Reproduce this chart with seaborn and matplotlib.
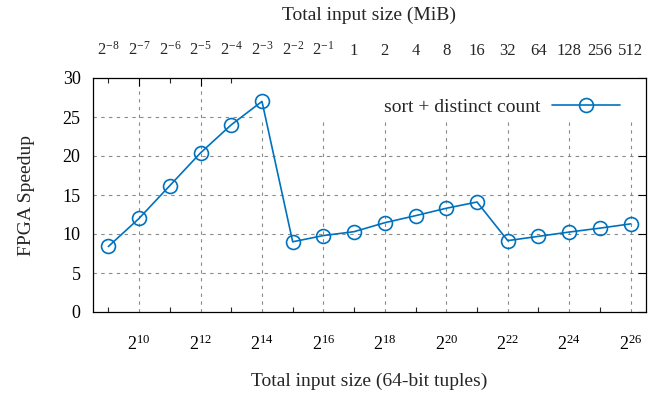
import matplotlib
matplotlib.use("Agg")
import matplotlib.pyplot as plt
import seaborn as sns
import pandas as pd
from matplotlib.patches import Rectangle
from matplotlib.ticker import FixedLocator, NullLocator, NullFormatter

# ---- data ----
exponents = list(range(9, 27))  # input size = 2**e tuples
speedup = [8.4, 12.0, 16.2, 20.4, 24.0, 27.0, 9.0, 9.8, 10.3, 11.45,
           12.35, 13.3, 14.1, 9.15, 9.7, 10.25, 10.75, 11.3]
series_label = "sort + distinct count"
mib_labels = [r"$\mathregular{2^{-8}}$", r"$\mathregular{2^{-7}}$", r"$\mathregular{2^{-6}}$",
              r"$\mathregular{2^{-5}}$", r"$\mathregular{2^{-4}}$", r"$\mathregular{2^{-3}}$",
              r"$\mathregular{2^{-2}}$", r"$\mathregular{2^{-1}}$",
              "1", "2", "4", "8", "16", "32", "64", "128", "256", "512"]
major_exps = list(range(10, 27, 2))
minor_exps = list(range(9, 27, 2))
y_ticks = [0, 5, 10, 15, 20, 25, 30]

sns.set_style("white")
plt.rcParams["font.family"] = ["Liberation Serif", "DejaVu Serif"]
plt.rcParams["mathtext.fontset"] = "custom"
plt.rcParams["mathtext.rm"] = "Liberation Serif"
plt.rcParams["mathtext.it"] = "Liberation Serif:italic"
plt.rcParams["mathtext.bf"] = "Liberation Serif:bold"

color = "#0072bd"
fs = 14

df = pd.DataFrame({"tuples": [2.0 ** e for e in exponents], "speedup": speedup})

fig = plt.figure(figsize=(6.6, 3.98), dpi=100)
ax = fig.add_axes([93 / 660, 1 - 312 / 398, (646 - 93) / 660, (312 - 78) / 398])
ax.set_xscale("log", base=2)
ax.set_xlim(2 ** 8.5, 2 ** 26.5)
ax.set_ylim(0, 30)

# grid (manual so an opaque key box can sit between grid and data)
grid_kw = dict(color="#8a8a8a", lw=0.8, ls=(0, (3, 4)), zorder=0.5)
for yv in y_ticks[1:-1]:
    ax.axhline(yv, **grid_kw)
for e in major_exps:
    ax.axvline(2.0 ** e, **grid_kw)

# opaque key area
ax.add_patch(Rectangle((0.295, 0.82), 0.705, 0.18, transform=ax.transAxes,
                       facecolor="white", edgecolor="none", zorder=1))

sns.lineplot(data=df, x="tuples", y="speedup", ax=ax, color=color, lw=1.2,
             marker="o", markersize=10, markerfacecolor="none",
             markeredgecolor=color, markeredgewidth=1.2, label=series_label,
             zorder=2)

ax.xaxis.set_major_locator(FixedLocator([2.0 ** e for e in major_exps]))
ax.set_xticklabels([rf"$\mathregular{{2^{{{e}}}}}$" for e in major_exps])
ax.xaxis.set_minor_locator(FixedLocator([2.0 ** e for e in minor_exps]))
ax.xaxis.set_minor_formatter(NullFormatter())
ax.set_yticks(y_ticks)
ax.yaxis.set_minor_locator(NullLocator())

ax.tick_params(axis="both", which="major", direction="in", length=6, width=0.8,
               top=True, right=True, colors="black")
ax.tick_params(axis="x", which="major", pad=16, labelsize=13)
ax.tick_params(axis="y", which="major", pad=9, labelsize=13)
ax.tick_params(axis="x", which="minor", direction="in", length=3.5, width=0.8,
               top=True, bottom=True)
for s in ax.spines.values():
    s.set_color("black")
    s.set_linewidth(0.9)
    s.set_zorder(3)

ax.set_xlabel("Total input size (64-bit tuples)", fontsize=fs, labelpad=14)
ax.set_ylabel("FPGA Speedup", fontsize=fs, labelpad=20)

sec = ax.secondary_xaxis("top")
sec.xaxis.set_major_locator(FixedLocator([2.0 ** e for e in exponents]))
sec.set_xticklabels(mib_labels)
sec.xaxis.set_minor_locator(NullLocator())
sec.tick_params(axis="x", which="major", length=0, pad=14, labelsize=12)
sec.spines["top"].set_visible(False)
sec.set_xlabel("Total input size (MiB)", fontsize=fs, labelpad=15)

leg = ax.legend(loc="center right", bbox_to_anchor=(0.953, 0.876), frameon=False,
                markerfirst=False, fontsize=fs, handlelength=3.5, handletextpad=0.6,
                borderpad=0, borderaxespad=0)

fig.savefig("out.png", dpi=100)
